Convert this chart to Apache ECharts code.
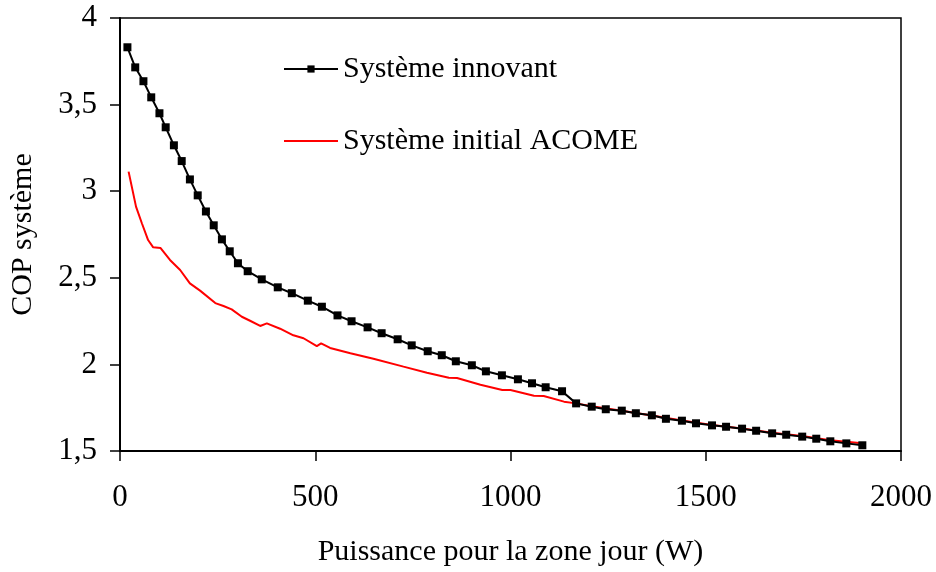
<!DOCTYPE html>
<html>
<head>
<meta charset="utf-8">
<script src="https://cdn.jsdelivr.net/npm/echarts@6/dist/echarts.min.js"></script>
<style>
  html, body { margin: 0; padding: 0; background: #fff; }
  #main { width: 936px; height: 572px; }
</style>
</head>
<body>
<div id="main"></div>
<script>
// Système innovant (black, square markers)
const innovX = [19, 39, 60, 80, 101, 117, 138, 158, 179, 199, 220, 240, 261, 281, 302,
  327, 363, 404, 440, 481, 517, 557, 593, 634, 670, 711, 747, 788, 824, 860, 901,
  937, 978, 1019, 1055, 1090, 1132, 1168, 1208, 1244, 1285, 1321, 1362, 1398, 1439,
  1475, 1516, 1552, 1593, 1629, 1670, 1706, 1747, 1783, 1819, 1860, 1901];
const innovY = [3.831, 3.715, 3.635, 3.542, 3.450, 3.369, 3.265, 3.174, 3.068, 2.976,
  2.883, 2.803, 2.722, 2.653, 2.584, 2.538, 2.491, 2.445, 2.411, 2.368, 2.333, 2.283,
  2.249, 2.214, 2.180, 2.145, 2.110, 2.076, 2.053, 2.018, 1.995, 1.960, 1.937, 1.914,
  1.891, 1.868, 1.845, 1.775, 1.756, 1.741, 1.733, 1.718, 1.706, 1.686, 1.675, 1.660,
  1.648, 1.640, 1.629, 1.617, 1.602, 1.594, 1.583, 1.571, 1.556, 1.544, 1.533];

// Système initial ACOME (red line)
const acomeX = [22, 41, 56, 72, 85, 104, 128, 154, 179, 205, 244, 265, 286, 312, 333,
  359, 376, 410, 444, 470, 504, 515, 538, 590, 649, 726, 786, 842, 863, 923, 979,
  1000, 1060, 1085, 1137, 1168, 1208, 1285, 1362, 1439, 1516, 1593, 1670, 1747,
  1819, 1860, 1900];
const acomeY = [3.113, 2.911, 2.815, 2.718, 2.676, 2.672, 2.603, 2.545, 2.468, 2.426,
  2.354, 2.337, 2.318, 2.275, 2.252, 2.222, 2.237, 2.206, 2.168, 2.151, 2.106, 2.121,
  2.095, 2.064, 2.033, 1.987, 1.952, 1.923, 1.921, 1.883, 1.852, 1.852, 1.819, 1.818,
  1.785, 1.775, 1.758, 1.733, 1.705, 1.676, 1.650, 1.630, 1.605, 1.586, 1.562, 1.553,
  1.545];

const xTicks = [0, 500, 1000, 1500, 2000];
const yTicks = [1.5, 2, 2.5, 3, 3.5, 4];

const FONT = "'Liberation Serif', 'Times New Roman', serif";

function pairs(xs, ys) {
  return xs.map((x, i) => [x, ys[i]]);
}

var myChart = echarts.init(document.getElementById("main"));
myChart.setOption({
  animation: false,
  backgroundColor: "#fff",
  textStyle: { fontFamily: FONT, color: "#000" },
  grid: {
    left: 120, right: 35, top: 18, bottom: 121,
    outerBoundsMode: "none",
    containLabel: false,
    show: true, borderColor: "#000", borderWidth: 1.5
  },
  legend: {
    orient: "vertical",
    left: 278, top: 49,
    itemWidth: 54, itemHeight: 9, itemGap: 42,
    textStyle: { fontFamily: FONT, fontSize: 30, color: "#000" },
    data: [
      { name: "Système innovant" },
      { name: "Système initial ACOME", itemStyle: { opacity: 0 } }
    ]
  },
  xAxis: {
    type: "value",
    min: xTicks[0], max: xTicks[xTicks.length - 1], interval: 500,
    name: "Puissance pour la zone jour (W)",
    nameLocation: "middle", nameGap: 86,
    nameTextStyle: { fontFamily: FONT, fontSize: 30, color: "#000" },
    axisLine: { lineStyle: { color: "#000", width: 2 } },
    axisTick: { inside: false, length: 10, lineStyle: { color: "#000", width: 1.5 } },
    axisLabel: {
      margin: 31, fontFamily: FONT, fontSize: 31, color: "#000",
      formatter: v => String(v)
    },
    splitLine: { show: false }
  },
  yAxis: {
    type: "value",
    min: yTicks[0], max: yTicks[yTicks.length - 1], interval: 0.5,
    name: "COP système",
    nameLocation: "middle", nameGap: 82,
    nameTextStyle: { fontFamily: FONT, fontSize: 30, color: "#000" },
    axisLine: { show: true, lineStyle: { color: "#000", width: 2 } },
    axisTick: { show: true, inside: false, length: 10, lineStyle: { color: "#000", width: 1.5 } },
    axisLabel: {
      margin: 23, fontFamily: FONT, fontSize: 31, color: "#000",
      formatter: v => String(v).replace(".", ",")
    },
    splitLine: { show: false }
  },
  series: [
    {
      name: "Système initial ACOME",
      type: "line",
      data: pairs(acomeX, acomeY),
      showSymbol: false,
      symbol: "none",
      lineStyle: { color: "#ff0000", width: 2 },
      itemStyle: { color: "#ff0000" },
      z: 2
    },
    {
      name: "Système innovant",
      type: "line",
      data: pairs(innovX, innovY),
      symbol: "rect",
      symbolSize: 8,
      lineStyle: { color: "#000", width: 2 },
      itemStyle: { color: "#000" },
      z: 3
    }
  ]
});
window.onresize = function() {
  myChart.resize();
};
</script>
</body>
</html>
